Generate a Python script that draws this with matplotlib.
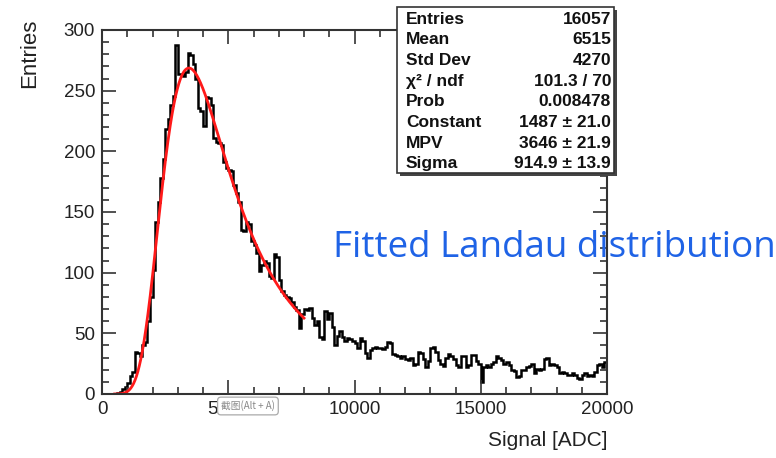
import matplotlib
matplotlib.use("Agg")
import matplotlib.pyplot as plt
import numpy as np
from matplotlib.patches import Rectangle
from matplotlib.ticker import MultipleLocator

# histogram, 200 bins of 100 ADC from 0 to 20000
bin_edges = np.arange(0, 20001, 100)
counts = [0, 0, 0, 0, 0, 0, 1, 2, 4, 6,
          9, 15, 18, 35, 34, 31, 40, 43, 60, 80,
          102, 142, 158, 178, 194, 218, 227, 238, 246, 288,
          264, 264, 262, 265, 281, 279, 272, 260, 236, 233,
          221, 245, 244, 238, 211, 208, 207, 205, 191, 186,
          185, 184, 172, 166, 158, 135, 134, 142, 140, 126,
          123, 116, 101, 106, 110, 108, 97, 96, 115, 113,
          94, 85, 82, 80, 79, 76, 72, 69, 54, 66,
          70, 69, 71, 63, 57, 60, 47, 45, 68, 62,
          67, 55, 40, 48, 52, 47, 44, 46, 45, 44,
          42, 38, 46, 44, 34, 30, 36, 38, 39, 38,
          38, 37, 39, 43, 42, 33, 32, 31, 30, 31,
          29, 28, 30, 24, 25, 35, 34, 29, 22, 27,
          38, 39, 35, 28, 25, 23, 30, 33, 31, 29,
          24, 22, 31, 31, 22, 24, 32, 32, 27, 25,
          10, 22, 24, 22, 25, 26, 31, 30, 28, 25,
          26, 24, 20, 19, 14, 15, 20, 20, 22, 23,
          25, 17, 21, 20, 21, 29, 30, 24, 25, 24,
          22, 17, 18, 17, 16, 16, 17, 16, 13, 12,
          16, 17, 15, 16, 15, 18, 24, 25, 22, 26]

# fit result shown in the stat box
fit_const = 1487
fit_mpv = 3646
fit_sigma = 914.9
fit_range = (500, 8000)

stat_names = ["Entries", "Mean", "Std Dev", "\u03c7\u00b2 / ndf", "Prob",
              "Constant", "MPV", "Sigma"]
stat_values = ["16057", "6515", "4270", "101.3 / 70", "0.008478",
               "1487 \u00b1 21.0", "3646 \u00b1 21.9", "914.9 \u00b1 13.9"]


def landau(lam):
    # standard Landau density, same convention as ROOT TMath::Landau
    t = np.linspace(0, 30, 30001)
    tlt = np.zeros_like(t)
    tlt[1:] = t[1:] * np.log(t[1:])
    out = []
    for l in lam:
        f = np.exp(-np.pi * t / 2) * np.cos(tlt + l * t)
        out.append(np.trapezoid(f, t) / np.pi)
    return np.array(out)


xf = np.linspace(fit_range[0], fit_range[1], 400)
yf = fit_const * landau((xf - fit_mpv) / fit_sigma)

plt.rcParams['font.family'] = ['Liberation Sans', 'DejaVu Sans']

fig = plt.figure(figsize=(7.76, 4.58), dpi=100)
ax = fig.add_axes([102/776, 1-394/458, 505/776, 364/458])

ax.stairs(counts, bin_edges, color='black', linewidth=1.8)
ax.plot(xf, yf, color='#ff1a1a', linewidth=2)

ax.set_xlim(0, 20000)
ax.set_ylim(0, 300)
ax.xaxis.set_major_locator(MultipleLocator(5000))
ax.xaxis.set_minor_locator(MultipleLocator(1000))
ax.yaxis.set_major_locator(MultipleLocator(50))
ax.yaxis.set_minor_locator(MultipleLocator(10))
ax.tick_params(which='both', direction='in', top=True, right=True,
               color='#333333', width=1.2, labelsize=13.5, labelcolor='#222222')
ax.tick_params(which='major', length=10, pad=5)
ax.tick_params(which='minor', length=5)
for s in ax.spines.values():
    s.set_linewidth(1.5)
    s.set_color('#333333')

fig.text(30/776, 1-19/458, "Entries", rotation=90, ha='center', va='top',
         fontsize=16, color='#222222')
fig.text(607/776, 1-440/458, "Signal [ADC]", ha='right', va='center',
         fontsize=15, color='#222222')

fig.text(333/776, 1-248/458, "Fitted Landau distribution", ha='left',
         va='center', fontsize=26.5, color='#1f63e6', family='Open Sans')

# screenshot tool tooltip over the 5000 label
fig.text(221/776, 1-406/458, "\u622a\u56fe(Alt + A)", ha='left', va='center',
         fontsize=7, color='#888888',
         family=['Noto Sans CJK SC', 'DejaVu Sans'],
         bbox=dict(boxstyle='round,pad=0.35', fc='white', ec='#aaaaaa', lw=0.9))

# stat box with shadow
bx0, by0, bx1, by1 = 397, 7, 614, 173
fig.add_artist(Rectangle(((bx0+3)/776, 1-(by1+3)/458), (bx1-bx0)/776,
                         (by1-by0)/458, transform=fig.transFigure,
                         fc='#444444', ec='none', zorder=5))
fig.add_artist(Rectangle((bx0/776, 1-by1/458), (bx1-bx0)/776,
                         (by1-by0)/458, transform=fig.transFigure,
                         fc='white', ec='#333333', lw=1.2, zorder=6))
for i, (n, v) in enumerate(zip(stat_names, stat_values)):
    yy = 1 - (19 + i * 20.7) / 458
    fig.text(406/776, yy, n, ha='left', va='center', fontsize=12.5,
             fontweight='bold', color='#111111', zorder=7)
    fig.text(611/776, yy, v, ha='right', va='center', fontsize=12.5,
             fontweight='bold', color='#111111', zorder=7)

fig.savefig("out.png", dpi=100)
